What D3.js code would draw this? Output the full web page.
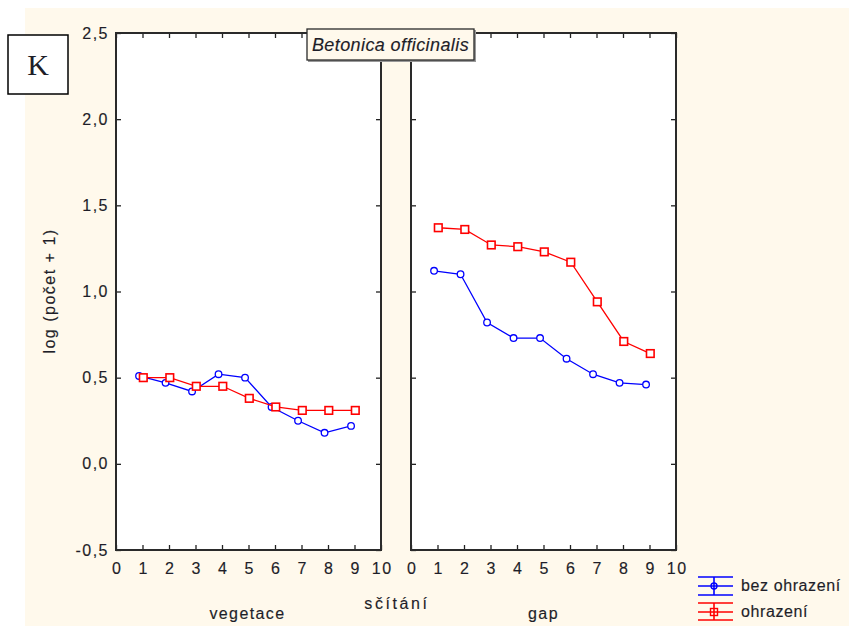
<!DOCTYPE html>
<html>
<head>
<meta charset="utf-8">
<script src="https://cdn.jsdelivr.net/npm/d3@7"></script>
<style>
  body { margin: 0; background: #fff; }
  text { font-family: Arial, "Liberation Sans", sans-serif; fill: #1e1e28; stroke: #1e1e28; stroke-width: 0.15px; }
</style>
</head>
<body>
<div id="chart"></div>
<script>
// data
const counts = [1, 2, 3, 4, 5, 6, 7, 8, 9];
const panels = ["vegetace", "gap"];
const bezOhrazeniVegetace = [0.51, 0.47, 0.42, 0.52, 0.50, 0.33, 0.25, 0.18, 0.22];
const ohrazeniVegetace = [0.50, 0.50, 0.45, 0.45, 0.38, 0.33, 0.31, 0.31, 0.31];
const bezOhrazeniGap = [1.12, 1.10, 0.82, 0.73, 0.73, 0.61, 0.52, 0.47, 0.46];
const ohrazeniGap = [1.37, 1.36, 1.27, 1.26, 1.23, 1.17, 0.94, 0.71, 0.64];
const yTicks = [-0.5, 0, 0.5, 1.0, 1.5, 2.0, 2.5];
const xTicks = [0, 1, 2, 3, 4, 5, 6, 7, 8, 9, 10];
const seriesNames = ["bez ohrazení", "ohrazení"];

const width = 849, height = 626;
const svg = d3.select("#chart").append("svg")
  .attr("width", width)
  .attr("height", height);

// cream backdrop
svg.append("rect")
  .attr("x", 25).attr("y", 8)
  .attr("width", width - 25).attr("height", height - 8)
  .attr("fill", "#fff9ec");

const y = d3.scaleLinear().domain([-0.5, 2.5]).range([550, 33]);
const fmt = d => d3.format(".1f")(d).replace(".", ",").replace("−", "-");

const panelX = [116, 411];
const panelW = 265;

const seriesData = [
  [bezOhrazeniVegetace, ohrazeniVegetace],
  [bezOhrazeniGap, ohrazeniGap]
];
const colors = ["#0000ff", "#ff0000"];
const shift = [-0.13, 0.03];

panels.forEach((name, p) => {
  const x = d3.scaleLinear().domain([0, 10]).range([panelX[p], panelX[p] + panelW]);
  const g = svg.append("g");

  g.append("rect")
    .attr("x", x(0)).attr("y", y(2.5))
    .attr("width", x(10) - x(0)).attr("height", y(-0.5) - y(2.5))
    .attr("fill", "#fff");

  const left = g.append("g").attr("transform", `translate(${x(0)},0)`)
    .call(d3.axisLeft(y).tickValues(yTicks).tickSize(-5).tickPadding(p === 0 ? 7 : 0)
      .tickFormat(p === 0 ? fmt : ""));
  const right = g.append("g").attr("transform", `translate(${x(10)},0)`)
    .call(d3.axisRight(y).tickValues(yTicks).tickSize(-5).tickFormat(""));
  const top = g.append("g").attr("transform", `translate(0,${y(2.5)})`)
    .call(d3.axisTop(x).tickValues(xTicks).tickSize(-5).tickFormat(""));
  const bottom = g.append("g").attr("transform", `translate(0,${y(-0.5)})`)
    .call(d3.axisBottom(x).tickValues(xTicks).tickSize(-5).tickPadding(13));

  [left, right, top, bottom].forEach(a => {
    a.select(".domain").remove();
    a.selectAll(".tick line").attr("stroke", "#222").attr("stroke-width", 1.3);
    a.selectAll(".tick text").attr("font-size", 16).attr("fill", "#1e1e28")
      .style("letter-spacing", "1.5px")
      .style("font-family", "Arial, 'Liberation Sans', sans-serif");
  });
  bottom.selectAll(".tick text").attr("dx", "0.75px");

  g.append("rect")
    .attr("x", x(0)).attr("y", y(2.5))
    .attr("width", x(10) - x(0)).attr("height", y(-0.5) - y(2.5))
    .attr("fill", "none").attr("stroke", "#2a2a2a").attr("stroke-width", 2);

  seriesData[p].forEach((vals, s) => {
    const pts = counts.map((c, i) => [x(c + shift[s]), y(vals[i])]);
    g.append("path")
      .attr("d", d3.line()(pts))
      .attr("fill", "none")
      .attr("stroke", colors[s])
      .attr("stroke-width", 1.3);
    if (s === 0) {
      g.selectAll(null).data(pts).enter().append("circle")
        .attr("cx", d => d[0]).attr("cy", d => d[1]).attr("r", 3.3)
        .attr("fill", "#fff").attr("stroke", colors[s]).attr("stroke-width", 1.3);
    } else {
      g.selectAll(null).data(pts).enter().append("rect")
        .attr("x", d => d[0] - 3.8).attr("y", d => d[1] - 3.8)
        .attr("width", 7.6).attr("height", 7.6)
        .attr("fill", "#fff").attr("stroke", colors[s]).attr("stroke-width", 1.6);
    }
  });

  svg.append("text")
    .attr("x", (x(0) + x(10)) / 2 + (p === 0 ? -1 : 0))
    .attr("y", 619)
    .attr("text-anchor", "middle")
    .attr("font-size", 16)
    .style("letter-spacing", "1.4px")
    .text(name);
});

svg.append("text")
  .attr("x", 397).attr("y", 609)
  .attr("text-anchor", "middle")
  .attr("font-size", 16)
  .style("letter-spacing", "2.6px")
  .text("sčítání");

svg.append("text")
  .attr("transform", "translate(55,291) rotate(-90)")
  .attr("text-anchor", "middle")
  .attr("font-size", 16)
  .style("letter-spacing", "1.5px")
  .text("log (počet + 1)");

// title box
svg.append("rect")
  .attr("x", 308).attr("y", 30).attr("width", 168).attr("height", 32)
  .attr("fill", "#999");
svg.append("rect")
  .attr("x", 307).attr("y", 29).attr("width", 167).attr("height", 31)
  .attr("fill", "#fff9ec").attr("stroke", "#2a2a2a").attr("stroke-width", 1.3);
svg.append("text")
  .attr("x", 390.5).attr("y", 51)
  .attr("text-anchor", "middle")
  .attr("font-size", 18)
  .attr("font-style", "italic")
  .style("letter-spacing", "0.4px")
  .text("Betonica officinalis");

// panel letter
svg.append("rect")
  .attr("x", 8).attr("y", 35).attr("width", 60).attr("height", 59)
  .attr("fill", "#fff").attr("stroke", "#000").attr("stroke-width", 1.5);
svg.append("text")
  .attr("x", 38).attr("y", 75)
  .attr("text-anchor", "middle")
  .attr("font-size", 30)
  .style("font-family", "'Liberation Serif', 'Times New Roman', serif")
  .style("stroke", "none")
  .attr("fill", "#000")
  .text("K");

// legend
const legendY = [[577, 586, 595], [603, 612, 620]];
seriesNames.forEach((n, s) => {
  const lg = svg.append("g");
  const [t, m, b] = legendY[s];
  [t, m, b].forEach(yy => lg.append("line")
    .attr("x1", 698).attr("x2", 733).attr("y1", yy).attr("y2", yy)
    .attr("stroke", colors[s]).attr("stroke-width", 1.6));
  lg.append("line")
    .attr("x1", 714).attr("x2", 714).attr("y1", t).attr("y2", b)
    .attr("stroke", colors[s]).attr("stroke-width", 1.6);
  if (s === 0) {
    lg.append("circle").attr("cx", 714).attr("cy", m).attr("r", 3)
      .attr("fill", "none").attr("stroke", colors[s]).attr("stroke-width", 1.4);
  } else {
    lg.append("rect").attr("x", 710.5).attr("y", m - 3.5).attr("width", 7).attr("height", 7)
      .attr("fill", "none").attr("stroke", colors[s]).attr("stroke-width", 1.4);
  }
  lg.append("text")
    .attr("x", 741).attr("y", m + 5)
    .attr("font-size", 16)
    .style("letter-spacing", "0.6px")
    .text(n);
});
</script>
</body>
</html>
